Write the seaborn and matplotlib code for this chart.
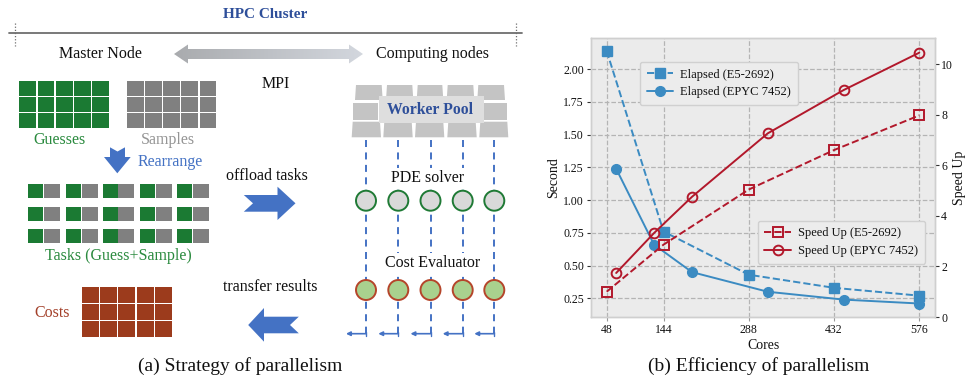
import matplotlib
matplotlib.use("Agg")
import matplotlib.pyplot as plt
import seaborn as sns
import numpy as np
from matplotlib.patches import Rectangle, Polygon, Circle, FancyArrowPatch
from matplotlib.colors import LinearSegmentedColormap

# ---------------- data (panel b) ----------------
cores_e5 = [48, 144, 288, 432, 576]
elapsed_e5 = [2.14, 0.76, 0.43, 0.33, 0.27]
speedup_e5 = [1.0, 2.86, 5.04, 6.60, 7.97]

cores_epyc = [64, 128, 192, 320, 448, 576]
elapsed_epyc = [1.24, 0.66, 0.45, 0.30, 0.24, 0.21]
speedup_epyc = [1.74, 3.32, 4.75, 7.26, 8.97, 10.45]

x_ticks = [48, 144, 288, 432, 576]
left_ticks = [0.25, 0.50, 0.75, 1.00, 1.25, 1.50, 1.75, 2.00]
right_ticks = [0, 2, 4, 6, 8, 10]

# ---------------- diagram labels (panel a) ----------------
n_workers = 5
grid_rows, grid_cols = 3, 5

BLUE = "#3b8bc2"
RED = "#b2182b"
ARROW_BLUE = "#4472c4"
DARK_GREEN = "#1b7a33"
CELL_GRAY = "#808080"
BRICK = "#9c3b1c"
TITLE_BLUE = "#2e4f9a"

sns.set_theme(style="darkgrid", rc={
    "axes.facecolor": "#ebebeb",
    "grid.color": "#b4b4b4",
    "grid.linestyle": "--",
    "grid.linewidth": 0.9,
})
plt.rcParams['font.family'] = ['Liberation Serif', 'DejaVu Serif']

fig = plt.figure(figsize=(9.67, 3.81), dpi=100)
fig.patch.set_facecolor("white")

# ================= panel (a): diagram in pixel coordinates =================
dax = fig.add_axes([0, 0, 1, 1])
dax.set_facecolor("none")
dax.axis("off")
FS = 11.5

def txt(x, y, s, color="#111111", size=FS, weight="normal", ha="center", bbox=None):
    dax.text(x, y, s, color=color, fontsize=size, fontweight=weight, ha=ha, va="center",
             bbox=bbox, zorder=6)

# top bar
dax.plot([9, 522], [32.7, 32.7], color="#6e6e6e", lw=1.3, zorder=2)
for xx in (15.2, 515.6):
    dax.plot([xx, xx], [22.7, 46], color="#6e6e6e", lw=0.9, ls=(0, (1, 1.5)), zorder=2)
txt(265.4, 14, "HPC Cluster", color=TITLE_BLUE, weight="bold", size=11)
txt(100.3, 54, "Master Node")
txt(432.5, 54, "Computing nodes")
txt(275.5, 84, "MPI")

# gradient double arrow
arr_pts = [(174, 54), (188, 44.5), (188, 49), (349, 49), (349, 44.5), (363, 54),
           (349, 63.5), (349, 59), (188, 59), (188, 63.5)]
poly = Polygon(arr_pts, closed=True, facecolor="none", edgecolor="none")
dax.add_patch(poly)
grad = np.linspace(0, 1, 256).reshape(1, -1)
gcmap = LinearSegmentedColormap.from_list("g", ["#a9abae", "#d3d7de"])
im = dax.imshow(grad, extent=(174, 363, 64, 44), cmap=gcmap, aspect="auto", zorder=3)
im.set_clip_path(poly)

# grids of cells
def cell_grid(x0, y0, w, h, px, py, color):
    for r in range(grid_rows):
        for c in range(grid_cols):
            dax.add_patch(Rectangle((x0 + c * px, y0 + r * py), w, h, facecolor=color,
                                    edgecolor="none", zorder=3))

cell_grid(19.3, 80.7, 16.9, 15.0, 18.2, 16.3, DARK_GREEN)
cell_grid(126.7, 80.7, 16.9, 15.0, 18.2, 16.3, CELL_GRAY)
txt(59.3, 140, "Guesses", color="#2a8a3e")
txt(168.3, 140, "Samples", color="#959595")

# Rearrange arrow (down)
down = [(110, 147.3), (117.5, 151.5), (125, 147.3), (125, 157), (130.7, 157),
        (117.3, 173.3), (104, 157), (110, 157)]
dax.add_patch(Polygon(down, closed=True, facecolor=ARROW_BLUE, edgecolor="none", zorder=3))
txt(137.7, 162.3, "Rearrange", color=ARROW_BLUE, ha="left")

# Tasks grid
pair_x = [28.3, 66.0, 102.7, 140.0, 177.3]
row_y = [184.0, 206.7, 229.0]
for yy in row_y:
    for xx in pair_x:
        dax.add_patch(Rectangle((xx, yy), 15, 13.8, facecolor=DARK_GREEN, edgecolor="none", zorder=3))
        dax.add_patch(Rectangle((xx + 15.6, yy), 16, 13.8, facecolor=CELL_GRAY, edgecolor="none", zorder=3))
txt(118, 256.5, "Tasks (Guess+Sample)", color="#2a8a3e")

# Costs
txt(52.3, 313.3, "Costs", color="#a3402a")
cell_grid(82.0, 287.3, 16.9, 15.6, 18.2, 16.9, BRICK)

# offload arrow (right)
off = [(243.8, 195), (277.5, 195), (277.5, 186.7), (295.5, 203.3), (277.5, 220),
       (277.5, 211.7), (243.8, 211.7), (253, 203.3)]
dax.add_patch(Polygon(off, closed=True, facecolor=ARROW_BLUE, edgecolor="none", zorder=3))
txt(266.8, 176, "offload tasks")

# transfer arrow (left)
tr = [(248.2, 325), (264, 308), (264, 316.7), (298.8, 316.7), (290, 325),
      (298.8, 333.3), (264, 333.3), (264, 341.7)]
dax.add_patch(Polygon(tr, closed=True, facecolor=ARROW_BLUE, edgecolor="none", zorder=3))
txt(270, 287.3, "transfer results")

# Worker pool tiles
tile_c = "#c4c4c4"
row1 = [(355, 382.7), (386, 413.3), (416.7, 443.3), (446.7, 474.3), (477.3, 505)]
row3 = [(351.7, 381), (383.3, 412.7), (415, 444.3), (447.3, 476.7), (479.3, 508.3)]
for a, b in row1:
    dax.add_patch(Polygon([(a + 1, 85), (b - 1, 85), (b, 100), (a, 100)], facecolor=tile_c,
                          edgecolor="none", zorder=3))
for a, b in [(353.3, 378.3), (484, 506.7)]:
    dax.add_patch(Rectangle((a, 102.7), b - a, 17.3, facecolor=tile_c, edgecolor="none", zorder=3))
for a, b in row3:
    dax.add_patch(Polygon([(a + 1, 121.7), (b - 1, 121.7), (b, 137.3), (a, 137.3)], facecolor=tile_c,
                          edgecolor="none", zorder=3))
dax.add_patch(Rectangle((379.3, 96), 104.7, 26.7, facecolor="#dedede", edgecolor="none", zorder=4))
txt(430.5, 110, "Worker Pool", color=TITLE_BLUE, weight="bold", size=11.3)

# worker lanes
lane_x = [366.0, 398.3, 430.5, 462.7, 494.3][:n_workers]
for xx in lane_x:
    dax.plot([xx, xx], [140, 334], color=ARROW_BLUE, lw=1.4, ls=(0, (3.6, 2.8)), zorder=2)
    dax.add_patch(Circle((xx, 200.7), 10, facecolor="#d9d9d9", edgecolor="#1f7a35", lw=1.4, zorder=5))
    dax.add_patch(Circle((xx, 290.0), 10, facecolor="#a9d18e", edgecolor="#b5452a", lw=1.4, zorder=5))
    dax.add_patch(FancyArrowPatch((xx, 333.7), (xx - 20, 333.7), arrowstyle="-|>", mutation_scale=6,
                                  color=ARROW_BLUE, lw=1.2, shrinkA=0, shrinkB=0, zorder=3))
    dax.plot([xx, xx], [331.5, 336], color=ARROW_BLUE, lw=1.0, zorder=3)

wb = dict(facecolor="white", edgecolor="none", pad=1.5)
txt(428, 178, "PDE solver", bbox=wb)
txt(432.3, 262.7, "Cost Evaluator", bbox=wb)

txt(239.8, 365.7, "(a) Strategy of parallelism", size=14)
txt(758.5, 365.7, "(b) Efficiency of parallelism", size=14)

dax.set_xlim(0, 967)
dax.set_ylim(381, 0)

# ================= panel (b): chart =================
ax = fig.add_axes([591 / 967, 1 - 317 / 381, 344 / 967, 279 / 381])
ax2 = ax.twinx()

sns.lineplot(x=cores_e5, y=elapsed_e5, ax=ax, color=BLUE, marker="s", markersize=6.5,
             markeredgecolor=BLUE, markeredgewidth=1, linestyle="--", lw=1.4,
             label="Elapsed (E5-2692)")
sns.lineplot(x=cores_epyc, y=elapsed_epyc, ax=ax, color=BLUE, marker="o", markersize=7,
             markeredgecolor=BLUE, markeredgewidth=1, linestyle="-", lw=1.4,
             label="Elapsed (EPYC 7452)")
sns.lineplot(x=cores_e5, y=speedup_e5, ax=ax2, color=RED, marker="s", markersize=6.5,
             markerfacecolor="none", markeredgecolor=RED, markeredgewidth=1.4, linestyle="--", lw=1.4,
             label="Speed Up (E5-2692)")
sns.lineplot(x=cores_epyc, y=speedup_epyc, ax=ax2, color=RED, marker="o", markersize=7,
             markerfacecolor="none", markeredgecolor=RED, markeredgewidth=1.4, linestyle="-", lw=1.4,
             label="Speed Up (EPYC 7452)")

ax.set_xlim(21.5, 602.5)
ax.set_ylim(0.107, 2.239)
ax2.set_ylim(0, 11.03)
ax.set_xticks(x_ticks)
ax.set_xticklabels([str(v) for v in x_ticks])
ax.set_yticks(left_ticks)
ax.set_yticklabels([f"{v:.2f}" for v in left_ticks])
ax2.set_yticks(right_ticks)
ax2.set_yticklabels([str(v) for v in right_ticks])
ax2.grid(False)
ax.grid(True)

ax.set_xlabel("Cores", fontsize=10, labelpad=2, color="#111111")
ax.set_ylabel("Second", fontsize=10, labelpad=2, color="#111111")
ax2.set_ylabel("Speed Up", fontsize=10, labelpad=0, color="#111111")

ax.tick_params(axis="x", bottom=True, length=3, width=0.8, color="#999999", pad=2,
               labelsize=8.5, labelcolor="#111111")
ax.tick_params(axis="y", left=True, length=3, width=0.8, color="#333333", pad=2,
               labelsize=8.5, labelcolor="#111111")
ax2.tick_params(axis="y", right=True, length=3, width=0.8, color="#333333", pad=1.5,
                labelsize=8.5, labelcolor="#111111")
for a in (ax, ax2):
    for sp in a.spines.values():
        sp.set_visible(True)
        sp.set_color("#cfcfcf")
        sp.set_linewidth(1.0)
ax2.set_facecolor("none")

leg1 = ax.legend(loc="upper left", bbox_to_anchor=(0.142, 0.915), fontsize=9, frameon=True,
                 facecolor="#ececec", edgecolor="#d0d0d0", framealpha=1, handlelength=2.1,
                 handletextpad=0.6, borderpad=0.55, labelspacing=0.45, borderaxespad=0)
leg2 = ax2.legend(loc="lower right", bbox_to_anchor=(0.971, 0.19), fontsize=9, frameon=True,
                  facecolor="#ececec", edgecolor="#d0d0d0", framealpha=1, handlelength=2.1,
                  handletextpad=0.6, borderpad=0.55, labelspacing=0.45, borderaxespad=0)
for leg in (leg1, leg2):
    for t in leg.get_texts():
        t.set_color("#111111")

fig.savefig("out.png", dpi=100, facecolor="white")
